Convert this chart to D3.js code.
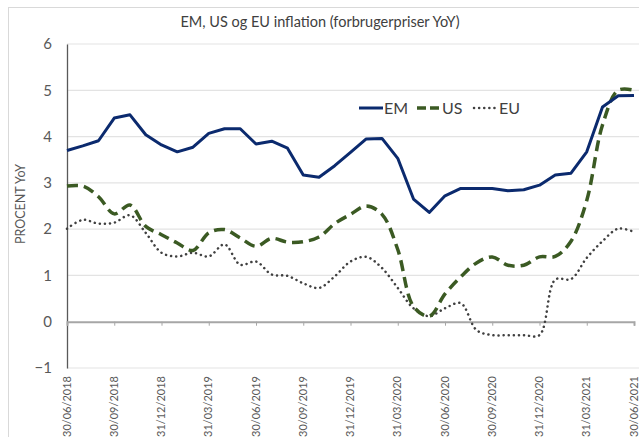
<!DOCTYPE html>
<html>
<head>
<meta charset="utf-8">
<script src="https://cdn.jsdelivr.net/npm/d3@7"></script>
<style>
  body { margin: 0; background: #fff; }
  svg { display: block; font-family: "Lato", "DejaVu Sans", sans-serif; }
</style>
</head>
<body>
<div id="chart"></div>
<script>
// month-end dates, 06/2018 - 06/2021
var dates = ["30/06/2018","31/07/2018","31/08/2018","30/09/2018","31/10/2018","30/11/2018","31/12/2018",
  "31/01/2019","28/02/2019","31/03/2019","30/04/2019","31/05/2019","30/06/2019","31/07/2019","31/08/2019",
  "30/09/2019","31/10/2019","30/11/2019","31/12/2019","31/01/2020","29/02/2020","31/03/2020","30/04/2020",
  "31/05/2020","30/06/2020","31/07/2020","31/08/2020","30/09/2020","31/10/2020","30/11/2020","31/12/2020",
  "31/01/2021","28/02/2021","31/03/2021","30/04/2021","31/05/2021","30/06/2021"];

var emValues = [3.70,3.80,3.91,4.40,4.47,4.04,3.82,3.67,3.77,4.07,4.17,4.17,3.84,3.90,3.75,3.17,3.12,3.37,
  3.66,3.95,3.96,3.53,2.65,2.36,2.72,2.88,2.88,2.88,2.83,2.85,2.95,3.17,3.21,3.67,4.64,4.88,4.89];
var usValues = [2.93,2.93,2.70,2.33,2.52,2.06,1.88,1.70,1.54,1.92,1.99,1.81,1.63,1.80,1.72,1.73,1.83,2.12,
  2.32,2.50,2.32,1.56,0.33,0.12,0.60,0.97,1.27,1.40,1.22,1.22,1.40,1.41,1.74,2.62,4.25,5.00,5.00];
var euValues = [2.01,2.20,2.12,2.14,2.30,1.92,1.49,1.41,1.49,1.41,1.67,1.23,1.30,1.02,0.99,0.83,0.73,0.98,
  1.30,1.40,1.16,0.73,0.29,0.12,0.29,0.40,-0.18,-0.29,-0.29,-0.29,-0.29,0.91,0.92,1.38,1.74,2.01,1.94];

var yTicks = [-1, 0, 1, 2, 3, 4, 5, 6];

var svgWidth = 639, svgHeight = 437;
var margin = { top: 44, right: 5, bottom: 69, left: 67 };
var width = svgWidth - margin.left - margin.right;
var height = svgHeight - margin.top - margin.bottom;

var svg = d3.select("#chart").append("svg")
  .attr("width", svgWidth)
  .attr("height", svgHeight);

// chart border
svg.append("rect")
  .attr("x", 8.5).attr("y", 7.5)
  .attr("width", svgWidth).attr("height", svgHeight)
  .attr("fill", "none").attr("stroke", "#d9d9d9");

svg.append("text")
  .attr("x", 320).attr("y", 27)
  .attr("text-anchor", "middle")
  .attr("font-size", "14.5px")
  .attr("fill", "#404040")
  .text("EM, US og EU inflation (forbrugerpriser YoY)");

var chartGroup = svg.append("g")
  .attr("transform", `translate(${margin.left}, ${margin.top})`);

var xScale = d3.scalePoint().domain(dates).range([0, width]);
var yScale = d3.scaleLinear().domain([-1, 6]).range([height, 0]);

// gridlines
chartGroup.append("g")
  .selectAll("line")
  .data(yTicks.filter(d => d !== 0))
  .enter()
  .append("line")
  .attr("x1", 0).attr("x2", width + 5)
  .attr("y1", d => yScale(d)).attr("y2", d => yScale(d))
  .attr("stroke", "#e3e3e3").attr("stroke-width", 1.2);

// y axis
var leftAxis = d3.axisLeft(yScale).tickValues(yTicks).tickSize(0).tickPadding(15).tickFormat(d3.format("d"));
var yAxisG = chartGroup.append("g").call(leftAxis);
yAxisG.select(".domain").attr("stroke", "#595959").attr("stroke-width", 1.3);
yAxisG.selectAll("text")
  .attr("font-size", "15px")
  .attr("fill", "#595959")
  .attr("font-family", "Lato, sans-serif");

// zero axis with ticks every 3 months
var tickDates = dates.filter((d, i) => i % 3 === 0);
var zeroAxis = d3.axisBottom(xScale).tickValues(tickDates).tickSize(4).tickFormat("");
var zeroG = chartGroup.append("g")
  .attr("transform", `translate(0, ${yScale(0)})`)
  .call(zeroAxis);
zeroG.select(".domain").attr("stroke", "#a6a6a6").attr("stroke-width", 2);
zeroG.selectAll(".tick line").attr("stroke", "#a6a6a6");

// date labels at the bottom
chartGroup.append("g")
  .selectAll("text")
  .data(tickDates)
  .enter()
  .append("text")
  .attr("transform", d => `translate(${xScale(d) + 3.5}, ${height + 8}) rotate(-90)`)
  .attr("text-anchor", "end")
  .attr("font-size", "11px")
  .attr("fill", "#595959")
  .text(d => d);

// y axis title
svg.append("text")
  .attr("transform", "translate(25, 204) rotate(-90)")
  .attr("text-anchor", "middle")
  .attr("font-size", "12.5px")
  .attr("fill", "#595959")
  .text("PROCENT YoY");

var smooth = d3.line()
  .x((d, i) => xScale(dates[i]))
  .y(d => yScale(d))
  .curve(d3.curveCatmullRom.alpha(0.5));
var straight = d3.line()
  .x((d, i) => xScale(dates[i]))
  .y(d => yScale(d));

chartGroup.append("path")
  .datum(euValues)
  .attr("d", smooth)
  .attr("fill", "none")
  .attr("stroke", "#404040")
  .attr("stroke-width", 2.5)
  .attr("stroke-linecap", "round")
  .attr("stroke-dasharray", "0.1 5");

chartGroup.append("path")
  .datum(usValues)
  .attr("d", smooth)
  .attr("fill", "none")
  .attr("stroke", "#3b5a23")
  .attr("stroke-width", 3.5)
  .attr("stroke-dasharray", "11 6");

chartGroup.append("path")
  .datum(emValues)
  .attr("d", straight)
  .attr("fill", "none")
  .attr("stroke", "#0b2a6e")
  .attr("stroke-width", 3)
  .attr("stroke-linejoin", "round");

// legend
var legend = [
  { name: "EM", x: 359, color: "#0b2a6e", width: 3, dash: null, cap: "butt" },
  { name: "US", x: 417, color: "#3b5a23", width: 3.5, dash: "9 4", cap: "butt" },
  { name: "EU", x: 474, color: "#404040", width: 2.5, dash: "0.1 5", cap: "round" }
];
var legendG = svg.append("g");
legend.forEach(function(l) {
  legendG.append("line")
    .attr("x1", l.x).attr("x2", l.x + 24)
    .attr("y1", 108).attr("y2", 108)
    .attr("stroke", l.color)
    .attr("stroke-width", l.width)
    .attr("stroke-linecap", l.cap)
    .attr("stroke-dasharray", l.dash);
  legendG.append("text")
    .attr("x", l.x + 25).attr("y", 114)
    .attr("font-size", "16px")
    .attr("fill", "#404040")
    .text(l.name);
});
</script>
</body>
</html>
